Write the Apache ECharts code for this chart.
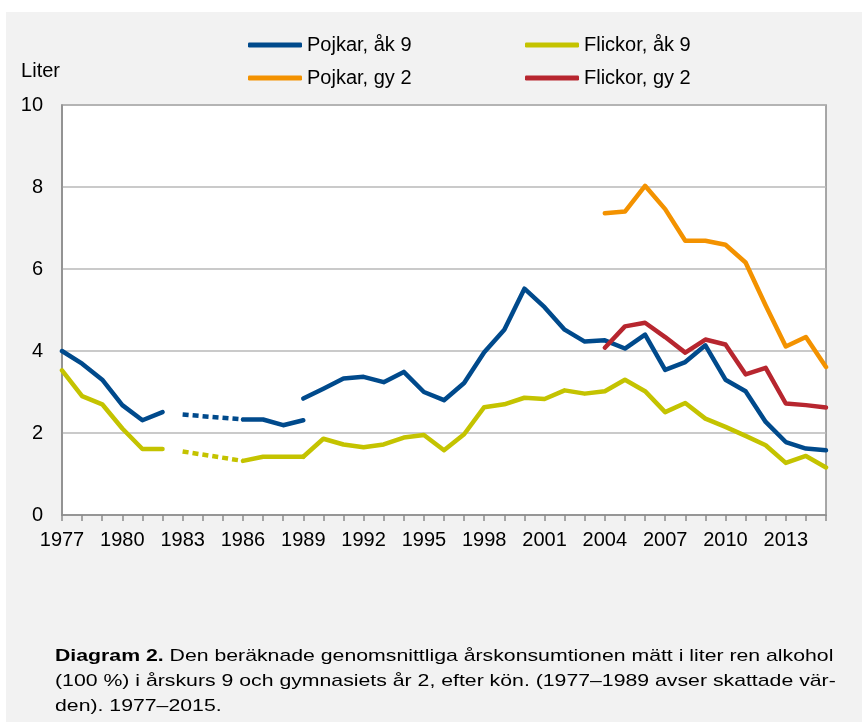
<!DOCTYPE html>
<html>
<head>
<meta charset="utf-8">
<script src="https://cdn.jsdelivr.net/npm/echarts@6/dist/echarts.min.js"></script>
<style>
  html, body { margin: 0; padding: 0; background: #ffffff; }
  #wrap { position: relative; width: 862px; height: 722px; background: #ffffff; }
  #panel { position: absolute; left: 6px; top: 12px; right: 0; bottom: 0; background: #f2f2f2; }
  #chart { position: absolute; left: 0; top: 0; width: 862px; height: 722px; }
</style>
</head>
<body>
<div id="wrap"><div id="panel"></div><div id="chart"></div></div>
<script>
// Categories (years)
const years = ['1977','1978','1979','1980','1981','1982','1983','1984','1985','1986',
  '1987','1988','1989','1990','1991','1992','1993','1994','1995','1996',
  '1997','1998','1999','2000','2001','2002','2003','2004','2005','2006',
  '2007','2008','2009','2010','2011','2012','2013','2014','2015'];

// Pojkar, åk 9 — estimated values 1977–1989 (null = no value)
const pojkarAk9Est = [4.0, 3.69, 3.3, 2.68, 2.31, 2.51, null, null, null, 2.33, 2.33, 2.19, 2.31];
// Pojkar, åk 9 — dotted bridge (1983 and 1986)
const pojkarAk9Bridge = [null, null, null, null, null, null, 2.45, null, null, 2.33];
// Pojkar, åk 9 — measured values 1989–2015
const pojkarAk9Start = '1989';
const pojkarAk9 = [2.84, 3.08, 3.33, 3.37, 3.24, 3.49, 3.0, 2.8, 3.22, 3.97,
  4.52, 5.52, 5.07, 4.52, 4.23, 4.26, 4.06, 4.4, 3.54, 3.73,
  4.14, 3.3, 3.02, 2.27, 1.78, 1.62, 1.58];

// Flickor, åk 9 — estimated values 1977–1989
const flickorAk9Est = [3.53, 2.9, 2.7, 2.11, 1.61, 1.61, null, null, null, 1.32, 1.42, 1.42, 1.42];
// Flickor, åk 9 — dotted bridge (1983 and 1986)
const flickorAk9Bridge = [null, null, null, null, null, null, 1.55, null, null, 1.32];
// Flickor, åk 9 — measured values 1989–2015
const flickorAk9Start = '1989';
const flickorAk9 = [1.42, 1.86, 1.72, 1.65, 1.72, 1.89, 1.95, 1.58, 1.97, 2.63,
  2.7, 2.86, 2.83, 3.04, 2.96, 3.02, 3.3, 3.02, 2.51, 2.73,
  2.35, 2.15, 1.93, 1.7, 1.27, 1.44, 1.16];

// Gymnasiet år 2, 2004–2015
const gy2Start = '2004';
const pojkarGy2 = [7.36, 7.4, 8.03, 7.46, 6.69, 6.69, 6.59, 6.16, 5.11, 4.11, 4.34, 3.61];
const flickorGy2 = [4.08, 4.6, 4.69, 4.34, 3.96, 4.28, 4.16, 3.43, 3.59, 2.72, 2.68, 2.62];

// Y-axis ticks
const yTicks = [0, 2, 4, 6, 8, 10];

const colors = { 'Pojkar, åk 9': '#004a8c', 'Flickor, åk 9': '#c4c300', 'Pojkar, gy 2': '#f39200', 'Flickor, gy 2': '#b7262f' };

function fromStart(start, vals) {
  const out = years.map(() => null);
  const s = years.indexOf(start);
  vals.forEach((v, i) => { out[s + i] = v; });
  return out;
}
function padEnd(vals) {
  return years.map((_, i) => (i < vals.length ? vals[i] : null));
}

const FONT = "'Liberation Sans', Arial, sans-serif";

function lineSeries(name, data, opts) {
  opts = opts || {};
  return {
    type: 'line',
    name: name,
    data: data,
    symbol: 'none',
    connectNulls: !!opts.connect,
    color: colors[name],
    lineStyle: {
      color: colors[name],
      width: 4.5,
      type: opts.dashed ? [6, 4] : 'solid',
      cap: opts.dashed ? 'butt' : 'round',
      join: 'round'
    },
    emphasis: { disabled: true },
    z: opts.z || 2
  };
}

const chart = echarts.init(document.getElementById('chart'), null, { renderer: 'canvas' });

const option = {
  animation: false,
  backgroundColor: 'transparent',
  textStyle: { fontFamily: FONT },
  grid: {
    left: 62, right: 36, top: 105, bottom: 207,
    show: true, backgroundColor: '#ffffff', borderColor: '#8c8c8c', borderWidth: 1.5
  },
  legend: [
    {
      data: ['Pojkar, åk 9', 'Pojkar, gy 2'],
      orient: 'vertical', left: 248, top: 35, padding: 0,
      itemWidth: 54, itemHeight: 5, itemGap: 13, icon: 'roundRect',
      textStyle: { fontFamily: FONT, fontSize: 20, color: '#000' },
      selectedMode: false
    },
    {
      data: ['Flickor, åk 9', 'Flickor, gy 2'],
      orient: 'vertical', left: 525, top: 35, padding: 0,
      itemWidth: 54, itemHeight: 5, itemGap: 13, icon: 'roundRect',
      textStyle: { fontFamily: FONT, fontSize: 20, color: '#000' },
      selectedMode: false
    }
  ],
  xAxis: {
    type: 'category',
    data: years,
    boundaryGap: false,
    axisLine: { lineStyle: { color: '#8c8c8c', width: 1.5 } },
    axisTick: { show: true, interval: 0, length: 6, lineStyle: { color: '#8c8c8c', width: 1.5 } },
    axisLabel: {
      interval: 2,
      fontSize: 20, color: '#000', margin: 15, fontFamily: FONT
    },
    splitLine: { show: false }
  },
  yAxis: {
    type: 'value',
    min: yTicks[0], max: yTicks[yTicks.length - 1], interval: 2,
    name: 'Liter',
    nameLocation: 'end',
    nameGap: 34,
    nameTextStyle: { fontFamily: FONT, fontSize: 20, color: '#000', align: 'right', verticalAlign: 'middle', padding: [0, 2, 0, 0] },
    axisLine: { show: true, lineStyle: { color: '#8c8c8c', width: 1.5 } },
    axisTick: { show: false },
    axisLabel: { fontSize: 20, color: '#000', margin: 19, fontFamily: FONT },
    splitLine: { lineStyle: { color: '#b8b8b8', width: 1.5 } }
  },
  series: [
    lineSeries('Pojkar, åk 9', padEnd(pojkarAk9Est)),
    lineSeries('Pojkar, åk 9', padEnd(pojkarAk9Bridge), { connect: true, dashed: true }),
    lineSeries('Pojkar, åk 9', fromStart(pojkarAk9Start, pojkarAk9)),
    lineSeries('Flickor, åk 9', padEnd(flickorAk9Est)),
    lineSeries('Flickor, åk 9', padEnd(flickorAk9Bridge), { connect: true, dashed: true }),
    lineSeries('Flickor, åk 9', fromStart(flickorAk9Start, flickorAk9)),
    lineSeries('Pojkar, gy 2', fromStart(gy2Start, pojkarGy2)),
    lineSeries('Flickor, gy 2', fromStart(gy2Start, flickorGy2), { z: 3 })
  ],
  graphic: [
    {
      type: 'text',
      x: 55,
      y: 644,
      scaleX: 1.25,
      scaleY: 1,
      style: {
        text: '{b|Diagram 2.} Den beräknade genomsnittliga årskonsumtionen mätt i liter ren alkohol\n(100 %) i årskurs 9 och gymnasiets år 2, efter kön. (1977–1989 avser skattade vär-\nden). 1977–2015.',
        font: '17px ' + FONT,
        fill: '#000',
        lineHeight: 25,
        rich: {
          b: { fontWeight: 'bold', fontSize: 17, fontFamily: FONT, fill: '#000', lineHeight: 25 }
        }
      }
    }
  ]
};

chart.setOption(option);
</script>
</body>
</html>
